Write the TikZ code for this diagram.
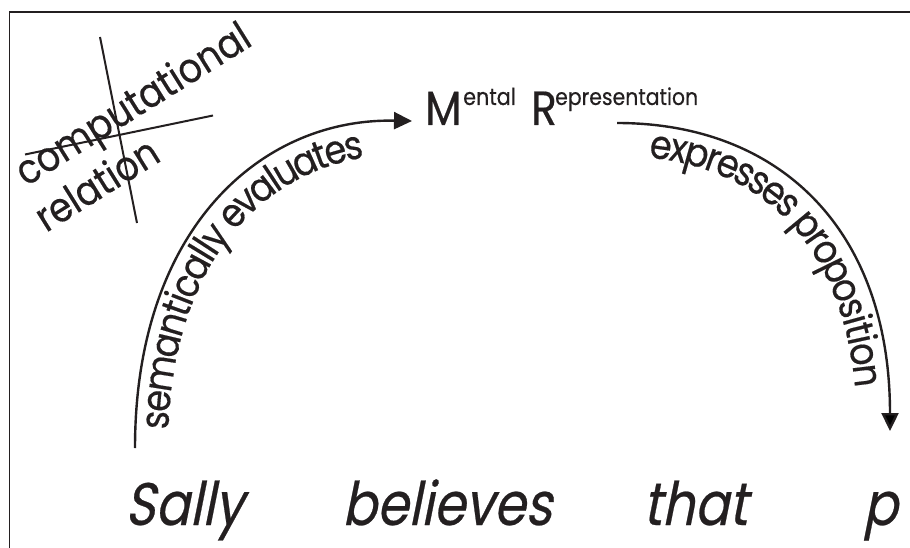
\documentclass[tikz,border=0pt]{standalone}
\usepackage{fontspec}
\setmainfont{Poppins}[FakeStretch=0.88,FakeBold=0.35]
\newfontfamily\oblfont{Poppins}[FakeSlant=0.2,FakeStretch=0.85,FakeBold=0.4]
\usetikzlibrary{arrows.meta,decorations.text}
\definecolor{ink}{RGB}{35,31,32}
\newcommand{\fsz}[1]{\fontsize{#1}{#1}\selectfont}
\begin{document}
\begin{tikzpicture}[x=1pt,y=-1pt,
  frameline/.style={draw=ink,line width=1.3pt},
  arcline/.style={draw=ink,line width=2.4pt,-{Triangle[length=18pt,width=17pt]}},
  strike/.style={draw=ink,line width=2pt},
  lbl/.style={anchor=base west,inner sep=0pt,text=ink},
  word/.style={lbl,font=\fsz{60}\oblfont},
  curvetext/.style={decorate,decoration={text along path,text color=ink,raise=#1}}
]
\useasboundingbox (0,0) rectangle (910,548);
\fill[white] (0,0) rectangle (910,548);
\coordinate (fa) at (910,12);
\coordinate (fb) at (9.5,12);
\coordinate (fc) at (9.5,548);
\draw[frameline] (fa) -- (fb) -- (fc);

% crossed-out label
\node[lbl,rotate=32,font=\fsz{41}] (comp) at (26,187) {computational};
\node[lbl,rotate=32,font=\fsz{41}] (rel) at (46,233) {relation};
\coordinate (la1) at (25,154.5);
\coordinate (la2) at (213,115.5);
\coordinate (lb1) at (100,37);
\coordinate (lb2) at (137,223);
\draw[strike] (la1) -- (la2);
\draw[strike] (lb1) -- (lb2);

% Mental Representation
\node[lbl,font=\fsz{48}] (M) at (425,125) {M};
\node[lbl,font=\fsz{23.5}] (ental) at (463,105) {ental};
\node[lbl,font=\fsz{48}] (R) at (531,125) {R};
\node[lbl,font=\fsz{23.2}] (epr) at (555,105) {epresentation};

% sentence
\node[word] (sally) at (125,525) {Sally};
\node[word] (believes) at (342,525) {believes};
\node[word] (that) at (643,525) {that};
\node[word] (p) at (863,525) {p};

% arcs
\coordinate (s1) at (135,448);
\coordinate (e1) at (412,121);
\coordinate (s2) at (617,123);
\coordinate (e2) at (890,431);
\draw[arcline] (s1) .. controls (135,230) and (260,118) .. (e1);
\path[curvetext=-33pt,decoration={text={|\fsz{40}|semantically evaluates},text align={left indent=20pt}}]
  (s1) .. controls (135,230) and (260,118) .. (e1);
\draw[arcline] (s2) .. controls (780,123) and (890,230) .. (e2);
\path[curvetext=-33pt,decoration={text={|\fsz{40}|expresses proposition},text align={left indent=36pt}}]
  (s2) .. controls (780,123) and (890,230) .. (e2);
\end{tikzpicture}
\end{document}
